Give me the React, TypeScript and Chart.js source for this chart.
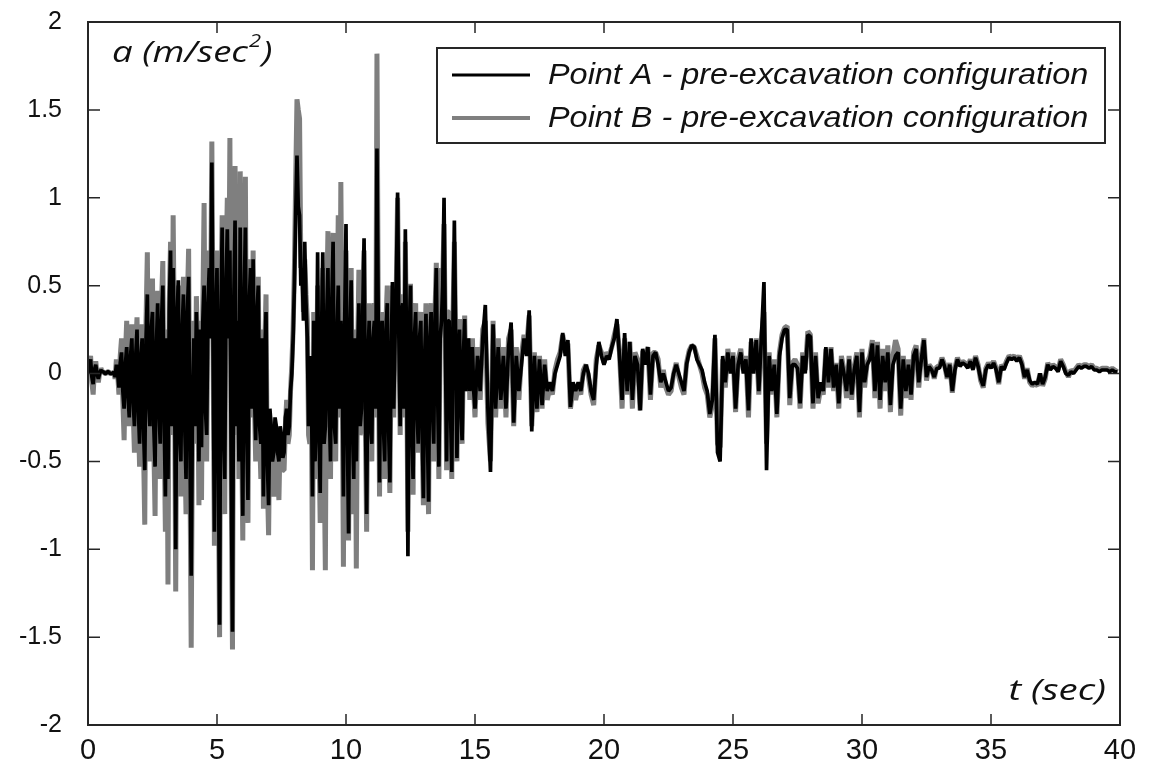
import { useEffect, useRef } from "react";
import { Chart, registerables } from "chart.js";

Chart.register(...registerables);

// strong-motion part: 0 - 14.95 s sampled every 0.05 s
const STRONG_STEP = 0.05;
// coda part: 15.0 - 39.9 s sampled every 0.1 s
const CODA_START = 15;
const CODA_STEP = 0.1;

const xTickValues = [0, 5, 10, 15, 20, 25, 30, 35, 40];
const yTickValues = [-2, -1.5, -1, -0.5, 0, 0.5, 1, 1.5, 2];

const seriesLabels = [
  "Point A - pre-excavation configuration",
  "Point B - pre-excavation configuration",
];

// Point A, 0 - 15 s (one row per second, 20 samples each)
const strongA = [
  0, 0.05, 0.08, -0.02, -0.06, 0.02, 0.05, 0.0, -0.03, 0.0, 0.02, 0.01, 0.01, 0.0, 0, 0.01, 0.01, 0.0, 0, 0.0,
  0.01, -0.02, 0.05, 0.0, -0.08, 0.06, 0.12, -0.1, -0.2, 0.05, 0.15, -0.12, -0.25, 0.1, 0.2, -0.15, -0.3, 0.1, 0.25, -0.2,
  -0.4, 0.1, 0.2, -0.3, -0.55, 0.2, 0.45, -0.15, -0.3, 0.25, 0.35, -0.3, -0.53, 0.15, 0.4, -0.2, -0.4, 0.3, 0.5, -0.25,
  -0.7, 0.2, -0.6, 0.35, 0.7, -0.3, 0.6, 0.1, -1.0, 0.3, 0.53, -0.35, -0.5, 0.25, 0.45, -0.3, -0.6, 0.35, 0.55, -0.4,
  -1.15, -0.2, 0.2, -0.3, 0.35, 0.1, -0.5, 0.25, -0.42, 0.3, 0.5, -0.2, -0.35, 0.4, 0.6, 0.2, 1.2, 0.1, -0.9, 0.3,
  0.6, -0.4, -1.43, 0.3, 0.83, -0.3, -0.6, 0.5, 0.82, 0.2, 0.7, -0.5, -1.47, 0.4, 0.87, -0.3, 0.3, -0.5, 0.83, -0.2,
  -0.81, 0.4, 0.83, -0.3, -0.72, 0.4, 0.6, -0.2, 0.65, -0.1, -0.38, 0.35, 0.5, -0.3, -0.4, 0.2, -0.7, 0.1, 0.35, -0.5,
  -0.75, -0.2, -0.3, -0.5, -0.45, -0.25, -0.3, -0.45, -0.5, -0.3, -0.35, -0.48, -0.45, -0.25, -0.2, -0.35, -0.3, -0.1, 0.0, 0.2,
  0.5, 0.9, 1.24, 0.95, 0.9, 0.5, 0.6, 0.3, 0.75, 0.4, 0.2, -0.3, -0.2, 0.1, -0.7, 0.3, -0.5, -0.2, 0.69, -0.3,
  -0.68, 0.2, 0.69, -0.4, -0.3, 0.3, 0.6, -0.2, -0.5, 0.4, 0.75, -0.3, -0.4, 0.2, 0.5, -0.2, 0.3, 0.1, -0.7, 0.3,
  0.85, -0.3, -0.91, 0.2, 0.53, -0.3, -0.6, 0.2, -0.5, 0.1, 0.4, -0.3, -0.2, 0.35, 0.77, -0.2, -0.8, 0.1, 0.3, -0.3,
  -0.4, 0.2, 0.3, -0.2, 1.28, 0.3, -0.62, 0.2, 0.3, -0.3, -0.5, 0.25, 0.4, -0.3, -0.62, 0.1, 0.52, -0.2, 0.2, 0.5,
  1.03, 0.2, -0.3, 0.35, 0.4, -0.2, 0.82, 0.1, -1.04, 0.2, 0.5, -0.3, -0.6, 0.2, 0.35, -0.2, -0.4, 0.2, 0.3, -0.3,
  -0.71, 0.1, 0.34, -0.3, -0.73, 0.2, 0.35, -0.2, -0.4, 0.3, 0.6, -0.1, -0.53, 0.2, 0.3, 0.5, 1.0, 0.2, -0.5, 0.3,
  0.3, -0.2, -0.56, 0.3, 0.87, 0.2, -0.48, 0.1, 0.25, -0.2, -0.38, 0.1, 0.31, -0.1, 0.1, 0.2, -0.1, 0.05, 0.15, -0.1,
];

// Point B, 0 - 15 s (one row per second, 20 samples each)
const strongB = [
  0, 0.06, 0.1, -0.05, -0.12, 0.03, 0.07, 0.0, -0.05, 0.0, 0.03, 0.01, 0.01, 0.0, 0, 0.01, 0.01, 0.0, 0, 0.0,
  0.01, -0.03, 0.08, 0.0, -0.12, 0.1, 0.2, -0.15, -0.38, 0.1, 0.3, -0.15, -0.3, 0.15, 0.28, -0.2, -0.45, 0.15, 0.32, -0.25,
  -0.53, 0.15, 0.28, -0.4, -0.86, 0.3, 0.69, -0.2, -0.5, 0.3, 0.54, -0.4, -0.81, 0.2, 0.47, -0.3, -0.6, 0.4, 0.64, -0.3,
  -0.9, 0.25, -1.2, 0.4, 0.75, -0.35, 0.9, 0.15, -1.24, 0.35, 0.5, -0.45, -0.7, 0.3, 0.55, -0.4, -0.8, 0.4, 0.71, -0.5,
  -1.56, -0.25, 0.3, -0.4, 0.44, 0.1, -0.75, 0.3, -0.72, 0.35, 0.97, -0.25, -0.5, 0.45, 0.7, 0.25, 1.32, 0.1, -0.98, 0.35,
  0.7, -0.5, -1.5, 0.35, 0.9, -0.35, -0.8, 0.6, 1.0, 0.25, 1.34, -0.6, -1.57, 0.5, 1.18, -0.35, 0.4, -0.6, 1.15, -0.25,
  -0.95, 0.5, 1.12, -0.35, -0.85, 0.45, 0.65, -0.25, 0.7, -0.15, -0.5, 0.4, 0.55, -0.35, -0.6, 0.25, -0.77, 0.15, 0.45, -0.6,
  -0.92, -0.25, -0.4, -0.6, -0.7, -0.3, -0.35, -0.55, -0.72, -0.35, -0.4, -0.55, -0.55, -0.3, -0.15, -0.4, -0.35, -0.1, 0.05, 0.25,
  0.6, 1.1, 1.56, 1.5, 1.45, 0.6, 0.7, 0.35, 0.65, 0.45, 0.3, -0.35, -0.4, 0.1, -1.12, 0.35, -0.6, -0.25, 0.5, -0.35,
  -0.85, 0.25, 0.6, -0.45, -1.12, 0.35, 0.81, -0.25, -0.6, 0.45, 0.8, -0.35, -0.5, 0.25, 0.9, -0.25, 1.09, 0.1, -1.1, 0.35,
  0.7, -0.35, -0.95, 0.25, 0.6, -0.35, -0.8, 0.25, -1.11, 0.1, 0.59, -0.35, -0.3, 0.4, 0.7, -0.25, -0.9, 0.1, 0.4, -0.35,
  -0.5, 0.25, 0.4, -0.25, 1.82, 0.35, -0.7, 0.25, 0.35, -0.35, -0.6, 0.3, 0.5, -0.35, -0.68, 0.1, 0.5, -0.25, 0.3, 0.5,
  1.0, 0.25, -0.35, 0.4, 0.45, -0.25, 0.75, 0.1, -0.9, 0.25, 0.51, -0.35, -0.69, 0.25, 0.4, -0.25, -0.45, 0.25, 0.35, -0.35,
  -0.75, 0.1, 0.4, -0.35, -0.8, 0.25, 0.4, -0.25, -0.5, 0.35, 0.63, -0.1, -0.6, 0.25, 0.6, 0.55, 0.85, 0.2, -0.55, 0.35,
  0.35, -0.25, -0.6, 0.35, 0.75, 0.2, -0.5, 0.1, 0.31, -0.25, -0.4, 0.1, 0.33, -0.1, 0.15, 0.2, -0.15, 0.05, 0.2, -0.1,
];

// Point A, 15 - 39.9 s (one row per second, 10 samples each)
const codaA = [
  -0.2, 0.1, -0.1, 0.2, 0.39, -0.2, -0.56, 0.28, -0.2, 0.15,
  -0.15, 0.1, -0.2, 0.15, 0.29, -0.28, 0.1, -0.1, 0.05, 0.2,
  0.1, 0.36, -0.33, 0.1, -0.2, 0.08, -0.18, 0.05, -0.1, -0.05,
  -0.1, 0.0, 0.05, 0.1, 0.23, 0.1, 0.19, -0.19, -0.05, -0.1,
  -0.05, -0.1, 0.0, 0.05, 0.0, -0.1, -0.15, 0.05, 0.18, 0.1,
  0.05, 0.1, 0.08, 0.15, 0.2, 0.31, 0.1, -0.15, 0.23, -0.1,
  0.18, -0.15, 0.1, 0.05, -0.21, 0.14, 0.05, 0.15, -0.12, 0.1,
  0.12, 0.05, -0.05, 0.0, -0.05, -0.1, -0.08, 0.0, 0.05, 0.0,
  -0.05, -0.1, 0.05, 0.12, 0.16, 0.15, 0.08, 0.05, 0.02, -0.05,
  -0.1, -0.23, -0.15, 0.22, -0.45, -0.5, 0.1, -0.05, 0.12, 0.0,
  0.1, -0.2, 0.05, 0.12, 0.0, 0.08, -0.21, 0.2, 0.0, 0.19,
  -0.1, 0.2, 0.52, -0.55, 0.1, -0.1, 0.05, -0.23, 0.1, 0.2,
  0.25, 0.25, -0.14, 0.05, 0.05, 0.03, -0.17, 0.1, 0.0, 0.22,
  0.21, -0.17, 0.1, -0.14, -0.05, -0.1, 0.15, -0.05, 0.14, -0.08,
  0.05, -0.17, 0.08, 0.0, -0.1, 0.08, -0.12, 0.02, 0.1, -0.22,
  0.12, -0.05, 0.05, 0.08, 0.17, -0.1, 0.16, -0.15, 0.1, -0.05,
  0.12, -0.18, 0.05, 0.1, 0.12, -0.2, 0.08, -0.1, 0.05, -0.12,
  0.1, 0.14, -0.05, 0.08, 0.19, -0.02, 0.04, 0.02, -0.02, 0.03,
  0.03, 0.08, 0.04, -0.02, 0.05, -0.1, 0.02, 0.08, 0.04, 0.06,
  0.05, 0.03, 0.07, 0.02, 0.09, 0.04, -0.03, -0.07, 0.02, 0.05,
  0.03, 0.06, 0.02, -0.05, 0.04, 0.02, 0.06, 0.09, 0.08, 0.09,
  0.07, 0.09, 0.05, -0.02, 0.02, -0.04, -0.06, -0.05, -0.06, 0.0,
  -0.06, -0.02, 0.05, 0.02, 0.04, 0.03, 0.01, 0.07, 0.04, 0.0,
  -0.01, 0.01, 0.0, 0.02, 0.04, 0.03, 0.04, 0.04, 0.03, 0.04,
  0.02, 0.02, 0.01, 0.02, 0.02, 0.02, 0.01, 0.02, 0.01, 0.01,
];

// Point B, 15 - 39.9 s (one row per second, 10 samples each)
const codaB = [
  -0.25, 0.15, -0.15, 0.25, 0.3, -0.28, -0.5, 0.3, -0.25, 0.2,
  -0.2, 0.15, -0.25, 0.2, 0.25, -0.3, 0.15, -0.15, 0.1, 0.22,
  0.15, 0.33, -0.3, 0.12, -0.22, 0.1, -0.2, 0.08, -0.15, -0.08,
  -0.12, 0.02, 0.08, 0.12, 0.22, 0.12, 0.17, -0.2, -0.08, -0.15,
  -0.08, -0.12, 0.02, 0.05, -0.02, -0.12, -0.18, 0.08, 0.16, 0.12,
  0.06, 0.12, 0.1, 0.15, 0.22, 0.28, 0.12, -0.2, 0.2, -0.12,
  0.18, -0.2, 0.12, 0.08, -0.21, 0.13, 0.08, 0.15, -0.15, 0.12,
  0.12, 0.08, -0.08, 0.02, -0.08, -0.12, -0.1, 0.0, 0.06, -0.02,
  -0.08, -0.12, 0.06, 0.13, 0.16, 0.15, 0.1, 0.05, 0.0, -0.08,
  -0.12, -0.25, -0.18, 0.2, -0.4, -0.42, 0.08, -0.08, 0.14, 0.02,
  0.12, -0.22, 0.08, 0.14, 0.02, 0.1, -0.25, 0.18, 0.02, 0.2,
  -0.12, 0.2, 0.35, -0.4, 0.12, -0.12, 0.08, -0.25, 0.12, 0.22,
  0.26, 0.27, -0.18, 0.06, 0.08, 0.05, -0.2, 0.12, 0.02, 0.24,
  0.22, -0.2, 0.12, -0.17, -0.08, -0.12, 0.14, -0.08, 0.15, -0.1,
  0.06, -0.2, 0.1, 0.02, -0.14, 0.1, -0.15, 0.04, 0.12, -0.25,
  0.14, -0.08, 0.06, 0.1, 0.19, -0.14, 0.18, -0.2, 0.14, -0.1,
  0.16, -0.22, 0.1, 0.19, 0.14, -0.24, 0.1, -0.14, 0.08, -0.15,
  0.12, 0.16, -0.08, 0.1, 0.2, -0.04, 0.05, 0.03, -0.03, 0.04,
  0.04, 0.09, 0.05, -0.03, 0.06, -0.11, 0.03, 0.09, 0.05, 0.07,
  0.06, 0.04, 0.08, 0.03, 0.1, 0.05, -0.04, -0.08, 0.03, 0.06,
  0.04, 0.07, 0.03, -0.06, 0.05, 0.03, 0.07, 0.1, 0.09, 0.1,
  0.08, 0.1, 0.06, -0.03, 0.03, -0.05, -0.07, -0.06, -0.07, 0.0,
  -0.07, -0.03, 0.06, 0.03, 0.05, 0.04, 0.02, 0.08, 0.05, 0.01,
  -0.02, 0.02, 0.01, 0.03, 0.05, 0.04, 0.05, 0.05, 0.04, 0.05,
  0.03, 0.03, 0.02, 0.03, 0.03, 0.03, 0.02, 0.03, 0.02, 0.01,
];

const COLOR_A = "#000000";
const COLOR_B = "#7f7f7f";
const FRAME = "#262626";

const toPoints = (strong: number[], coda: number[]) =>
  strong
    .map((v, i) => ({ x: Math.round(i * STRONG_STEP * 100) / 100, y: v }))
    .concat(coda.map((v, i) => ({ x: Math.round((CODA_START + i * CODA_STEP) * 100) / 100, y: v })));

const drawStretched = (ctx: any, text: string, x: number, y: number, sx: number, align: string) => {
  ctx.save();
  ctx.translate(x, y);
  ctx.scale(sx, 1);
  ctx.textAlign = align;
  ctx.fillText(text, 0, 0);
  ctx.restore();
};

const decorPlugin = {
  id: "decor",
  afterDatasetsDraw(chart: any) {
    const { ctx, chartArea, scales } = chart;
    const { left, right, top, bottom } = chartArea;
    const xs = scales.x;
    const ys = scales.y;
    ctx.save();
    // frame
    ctx.strokeStyle = FRAME;
    ctx.lineWidth = 2;
    ctx.strokeRect(left, top, right - left, bottom - top);
    // inward ticks on all four sides
    ctx.lineWidth = 1.5;
    ctx.beginPath();
    xTickValues.forEach((v) => {
      const px = xs.getPixelForValue(v);
      ctx.moveTo(px, bottom);
      ctx.lineTo(px, bottom - 11);
      ctx.moveTo(px, top);
      ctx.lineTo(px, top + 11);
    });
    yTickValues.forEach((v) => {
      const py = ys.getPixelForValue(v);
      ctx.moveTo(left, py);
      ctx.lineTo(left + 12, py);
      ctx.moveTo(right, py);
      ctx.lineTo(right - 12, py);
    });
    ctx.stroke();

    // axis titles inside plot
    ctx.fillStyle = "#111";
    ctx.textBaseline = "alphabetic";
    const sx = 1.22;
    const tx = left + 24;
    const ty = top + 40;
    ctx.font = "italic 30px 'Open Sans'";
    const base = "a (m/sec";
    drawStretched(ctx, base, tx, ty, sx, "left");
    const w1 = ctx.measureText(base).width * sx;
    ctx.font = "italic 18px 'Open Sans'";
    drawStretched(ctx, "2", tx + w1 + 1, ty - 15, sx, "left");
    const w2 = ctx.measureText("2").width * sx;
    ctx.font = "italic 30px 'Open Sans'";
    drawStretched(ctx, ")", tx + w1 + w2 + 2, ty, sx, "left");

    drawStretched(ctx, "t (sec)", right - 14, bottom - 25, 1.28, "right");

    // legend
    const lx = right - 683;
    const ly = top + 26;
    const lw = 668;
    const lh = 95;
    ctx.fillStyle = "#ffffff";
    ctx.fillRect(lx, ly, lw, lh);
    ctx.strokeStyle = FRAME;
    ctx.lineWidth = 2;
    ctx.strokeRect(lx, ly, lw, lh);
    const rows = [
      { label: seriesLabels[0], color: COLOR_A, width: 3, y: ly + 27 },
      { label: seriesLabels[1], color: COLOR_B, width: 4, y: ly + 70 },
    ];
    rows.forEach((r) => {
      ctx.strokeStyle = r.color;
      ctx.lineWidth = r.width;
      ctx.beginPath();
      ctx.moveTo(lx + 15, r.y);
      ctx.lineTo(lx + 93, r.y);
      ctx.stroke();
      ctx.fillStyle = "#111";
      ctx.textBaseline = "middle";
      ctx.font = "italic 30px 'Liberation Sans', Arial, sans-serif";
      drawStretched(ctx, r.label, lx + 111, r.y + 1, 1.08, "left");
    });
    ctx.restore();
  },
};

export default function App() {
  const canvasRef = useRef<HTMLCanvasElement | null>(null);

  useEffect(() => {
    const canvas = canvasRef.current;
    if (!canvas) return;
    const chart = new Chart(canvas, {
      type: "line",
      data: {
        datasets: [
          {
            label: seriesLabels[0],
            data: toPoints(strongA, codaA),
            borderColor: COLOR_A,
            borderWidth: 3.7,
            pointRadius: 0,
            tension: 0,
            borderJoinStyle: "bevel",
          },
          {
            label: seriesLabels[1],
            data: toPoints(strongB, codaB),
            borderColor: COLOR_B,
            borderWidth: 5,
            pointRadius: 0,
            tension: 0,
            borderJoinStyle: "bevel",
          },
        ],
      },
      options: {
        animation: false,
        responsive: true,
        maintainAspectRatio: false,
        layout: { padding: { top: 22, right: 41, left: 0, bottom: 0 } },
        plugins: {
          legend: { display: false },
          tooltip: { enabled: false },
        },
        scales: {
          x: {
            type: "linear",
            min: 0,
            max: 40,
            grid: { display: false, drawTicks: false },
            border: { display: false },
            afterBuildTicks: (scale: any) => {
              scale.ticks = xTickValues.map((v) => ({ value: v }));
            },
            afterFit: (scale: any) => {
              scale.height = 44;
              scale.paddingLeft = 0;
              scale.paddingRight = 0;
            },
            ticks: {
              padding: 9,
              color: "#111",
              font: { family: "'Liberation Sans Narrow', 'Liberation Sans', Arial", size: 29 },
              callback: (v: any) => String(v),
              maxRotation: 0,
              autoSkip: false,
            },
          },
          y: {
            type: "linear",
            min: -2,
            max: 2,
            grid: { display: false, drawTicks: false },
            border: { display: false },
            afterBuildTicks: (scale: any) => {
              scale.ticks = yTickValues.map((v) => ({ value: v }));
            },
            afterFit: (scale: any) => {
              scale.width = 88;
              scale.paddingTop = 0;
              scale.paddingBottom = 0;
            },
            ticks: {
              padding: 26,
              color: "#111",
              font: { family: "'Liberation Sans', Arial", size: 25 },
              callback: (v: any) => String(v),
              autoSkip: false,
            },
          },
        },
      },
      plugins: [decorPlugin],
    });
    return () => chart.destroy();
  }, []);

  return (
    <div style={{ position: "absolute", left: 0, top: 0, width: 1161, height: 769, background: "#fff" }}>
      <canvas ref={canvasRef} />
    </div>
  );
}
